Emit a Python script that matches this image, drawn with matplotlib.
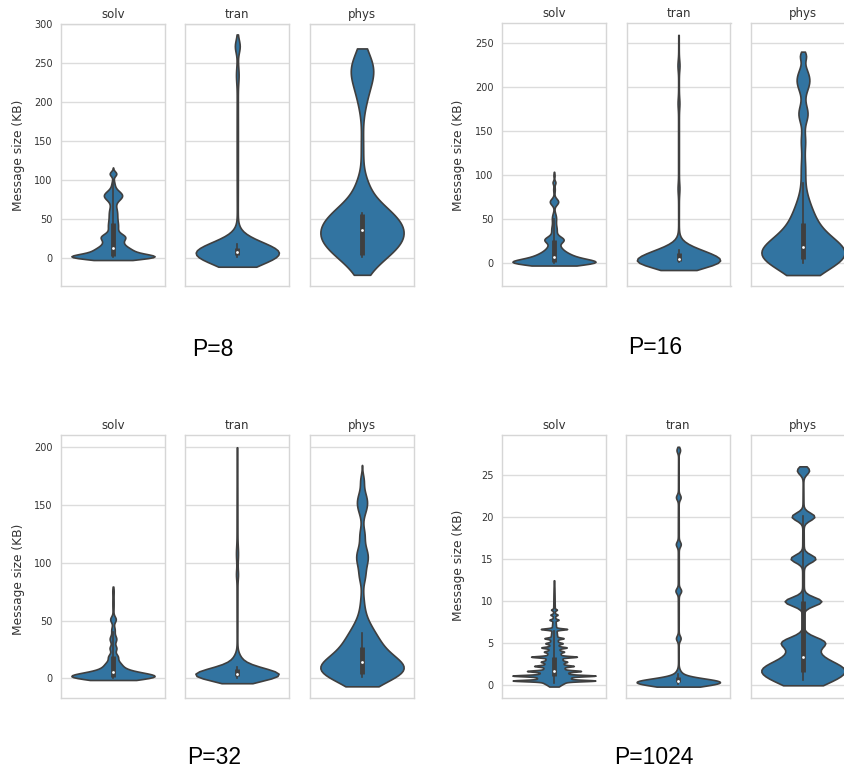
import numpy as np
import matplotlib.pyplot as plt

# ---- data ----
# each violin: list of density modes (centre KB, spread KB, relative width),
# the support range (flat ends) and the inner box (whisker lo, q1, median, q3, whisker hi)
categories = ["solv", "tran", "phys"]
proc_labels = ["P=8", "P=16", "P=32", "P=1024"]

solv_8 = [(1, 3.5, 0.85), (8, 5, 0.4), (18, 6, 0.2), (27, 4, 0.18), (40, 10, 0.12),
          (60, 8, 0.08), (80, 6, 0.22), (95, 5, 0.03), (108, 3, 0.08)]
solv_8_range = (-3, 116)
solv_8_box = (0.5, 2, 12.5, 45, 100)

tran_8 = [(6, 14, 1.0), (150, 120, 0.015), (235, 10, 0.02), (272, 8, 0.05)]
tran_8_range = (-11.6, 287)
tran_8_box = (0.5, 3, 7, 12, 17)

phys_8 = [(22, 26, 0.9), (55, 22, 0.45), (95, 15, 0.07), (140, 25, 0.03),
          (205, 20, 0.08), (242, 22, 0.28)]
phys_8_range = (-22, 269)
phys_8_box = (1, 3.5, 35, 56, 58)

solv_16 = [(1, 3.5, 0.85), (7, 5, 0.45), (17, 5, 0.15), (27, 3.5, 0.22), (38, 6, 0.07),
           (52, 5, 0.05), (70, 3.5, 0.11), (84, 4, 0.02), (92, 2, 0.035), (100, 2.5, 0.015)]
solv_16_range = (-2.5, 104)
solv_16_box = (0.5, 2, 7.6, 27, 50)

tran_16 = [(6, 10, 1.0), (0, 6, 0.25), (130, 120, 0.012), (85, 6, 0.015),
           (182, 6, 0.015), (225, 6, 0.02)]
tran_16_range = (-7.6, 259.5)
tran_16_box = (1.5, 3, 5, 12, 15)

phys_16 = [(10, 18, 1.0), (45, 24, 0.3), (110, 15, 0.05), (140, 10, 0.05),
           (170, 10, 0.12), (208, 12, 0.17), (236, 5, 0.07)]
phys_16_range = (-13.3, 240.5)
phys_16_box = (0.5, 5, 18, 46, 91)

solv_32 = [(1.5, 3, 0.85), (6, 4, 0.3), (13, 3, 0.12), (19, 2.5, 0.1), (26, 2.5, 0.08),
           (34, 3, 0.08), (42, 3, 0.04), (51, 2.5, 0.065), (65, 8, 0.015), (76, 3, 0.01)]
solv_32_range = (-1.5, 79.4)
solv_32_box = (0.5, 1.5, 5, 19, 40)

tran_32 = [(4, 5.5, 1.0), (0, 4, 0.15), (16, 5, 0.08), (100, 90, 0.012),
           (90, 4, 0.015), (108, 6, 0.015)]
tran_32_range = (-4.3, 200)
tran_32_box = (0.5, 2, 3.5, 8, 10)

phys_32 = [(7, 11, 1.0), (28, 16, 0.5), (68, 10, 0.03), (88, 6, 0.06), (105, 9, 0.17),
           (125, 6, 0.06), (152, 9, 0.15), (172, 5, 0.04)]
phys_32_range = (-7, 184.7)
phys_32_box = (1, 3.5, 14, 27, 39)

solv_1024 = [(0.8, 0.6, 0.3), (2.2, 1.2, 0.2), (4.5, 1.5, 0.08), (7, 1.5, 0.03), (10.5, 1.5, 0.012),
             (0.56, 0.08, 0.65), (1.15, 0.08, 0.61), (1.7, 0.08, 0.36), (2.3, 0.08, 0.24),
             (2.8, 0.08, 0.1), (3.4, 0.08, 0.37), (4.0, 0.08, 0.1), (4.5, 0.08, 0.19),
             (5.0, 0.08, 0.11), (5.6, 0.08, 0.15), (6.7, 0.08, 0.26), (7.8, 0.08, 0.075),
             (8.4, 0.08, 0.06), (9.0, 0.08, 0.05)]
solv_1024_range = (-0.15, 12.5)
solv_1024_box = (0.3, 1.1, 1.7, 3.4, 6.5)

tran_1024 = [(0.45, 0.4, 0.85), (0.0, 0.4, 0.3), (1.2, 0.5, 0.08), (14, 10, 0.012),
             (5.6, 0.3, 0.05), (11.25, 0.3, 0.06), (16.8, 0.3, 0.05), (22.4, 0.3, 0.05),
             (28.0, 0.3, 0.04)]
tran_1024_range = (-0.16, 28.4)
tran_1024_box = (0.1, 0.35, 0.5, 1.0, 1.3)

phys_1024 = [(2.0, 1.1, 0.85), (0.5, 1.0, 0.35), (4.2, 0.8, 0.2), (5.2, 0.6, 0.4),
             (10.0, 0.5, 0.42), (15.1, 0.45, 0.28), (20.1, 0.45, 0.26), (25.6, 0.45, 0.14),
             (13, 8, 0.02)]
phys_1024_range = (0, 26.07)
phys_1024_box = (0.6, 1.6, 3.4, 10.0, 20.2)

violins = {
    "P=8": [(solv_8, solv_8_range, solv_8_box), (tran_8, tran_8_range, tran_8_box),
            (phys_8, phys_8_range, phys_8_box)],
    "P=16": [(solv_16, solv_16_range, solv_16_box), (tran_16, tran_16_range, tran_16_box),
             (phys_16, phys_16_range, phys_16_box)],
    "P=32": [(solv_32, solv_32_range, solv_32_box), (tran_32, tran_32_range, tran_32_box),
             (phys_32, phys_32_range, phys_32_box)],
    "P=1024": [(solv_1024, solv_1024_range, solv_1024_box), (tran_1024, tran_1024_range, tran_1024_box),
               (phys_1024, phys_1024_range, phys_1024_box)],
}

# ---- layout (pixels in an 844x774 canvas) ----
W, H = 844, 774
layout = {
    # lefts of the three facets, top, bottom, ylim, tick step, ylabel pos, P label pos
    "P=8": ([61, 185.3, 310], 24, 286, (-36.4, 300.4), 50, (18.3, 155), (212.5, 349)),
    "P=16": ([502, 626.5, 751], 23.3, 286.3, (-26.1, 272.7), 50, (458.7, 155), (655, 348)),
    "P=32": ([61, 185, 310], 435.3, 698, (-17.1, 210.4), 50, (18.3, 579), (214, 757)),
    "P=1024": ([502, 626.3, 751], 435, 698.3, (-1.55, 29.8), 5, (458.7, 565), (653.5, 757)),
}
AX_W = 104

BLUE = "#3274a1"
GRAY = "#3f3f3f"
TXT = "#333333"


def draw_violin(ax, modes, span, box, n=100):
    y = np.linspace(span[0], span[1], n)
    d = np.zeros_like(y)
    for c, s, h in modes:
        d += h * np.exp(-0.5 * ((y - c) / s) ** 2)
    half = 0.4 * d / d.max()
    ax.fill_betweenx(y, -half, half, facecolor=BLUE, edgecolor=GRAY, linewidth=1.2, zorder=2)
    lo, q1, med, q3, hi = box
    ax.plot([0, 0], [lo, hi], color=GRAY, lw=1.2, zorder=3)
    ax.plot([0, 0], [q1, q3], color=GRAY, lw=3.5, solid_capstyle="butt", zorder=3)
    ax.scatter([0], [med], s=4, color="white", linewidths=0, zorder=4)


fig = plt.figure(figsize=(W / 100, H / 100), dpi=100)

for p in proc_labels:
    lefts, top, bottom, ylim, step, ylab_pos, p_pos = layout[p]
    for i, cat in enumerate(categories):
        ax = fig.add_axes([lefts[i] / W, 1 - bottom / H, AX_W / W, (bottom - top) / H])
        modes, span, box = violins[p][i]
        fine = p == "P=1024" and cat in ("solv", "tran")
        draw_violin(ax, modes, span, box, n=400 if fine else 100)
        ax.set_xlim(-0.5, 0.5)
        ax.set_ylim(*ylim)
        ax.set_xticks([])
        ax.set_yticks(np.arange(0, ylim[1], step))
        ax.yaxis.grid(True, color="#dcdcdc", linewidth=1.0, zorder=0)
        ax.set_axisbelow(True)
        for sp in ax.spines.values():
            sp.set_color("#d6d6d6")
            sp.set_linewidth(1.0)
        ax.tick_params(axis="y", length=0, pad=6, labelsize=7, labelcolor=TXT,
                       labelleft=(i == 0))
        ax.set_title(cat, fontsize=8.5, color=TXT, pad=4.5)
    fig.text(ylab_pos[0] / W, 1 - ylab_pos[1] / H, "Message size (KB)", rotation=90,
             ha="center", va="center", fontsize=8.8, color=TXT)
    fig.text(p_pos[0] / W, 1 - p_pos[1] / H, p, ha="center", va="center",
             fontsize=16.5, family="Liberation Sans", color="black")

fig.savefig("out.png", dpi=100)
plt.close(fig)
